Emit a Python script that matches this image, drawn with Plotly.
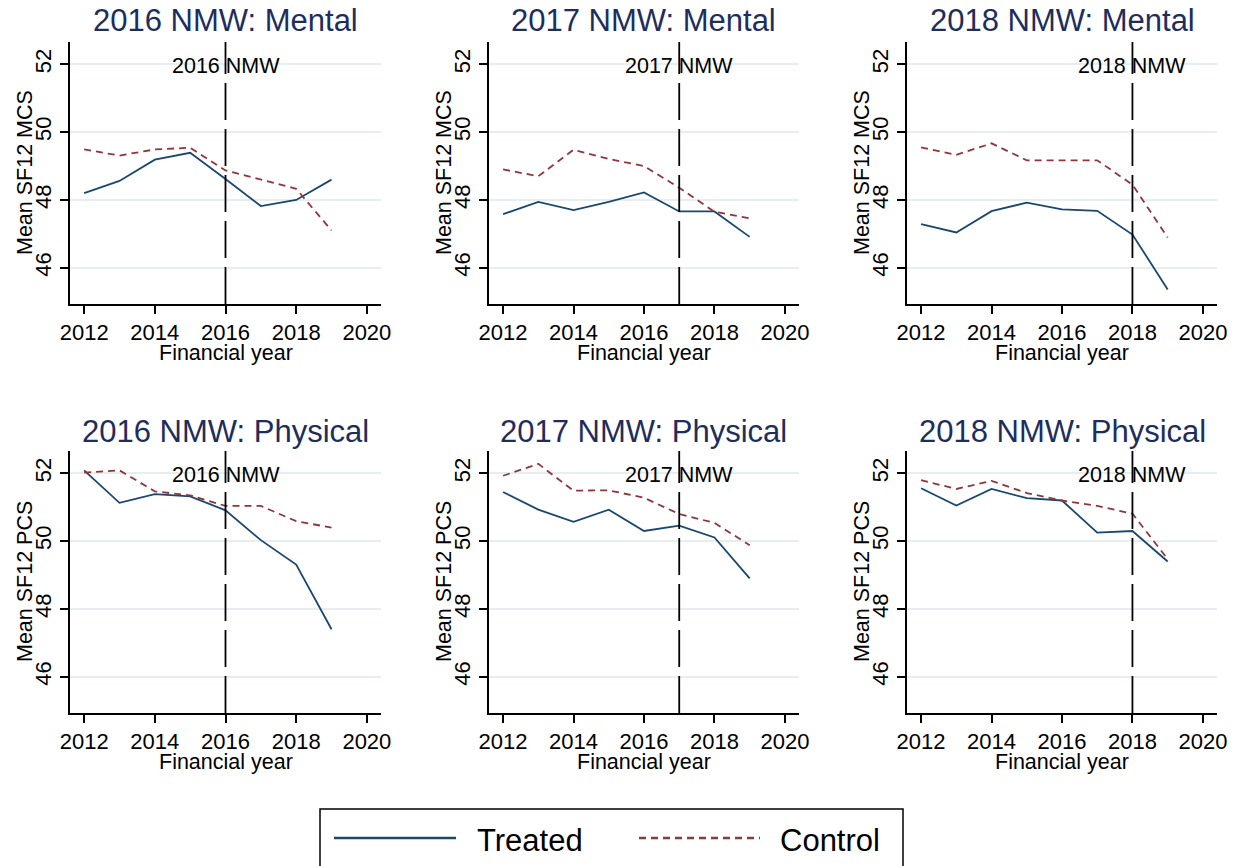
import plotly.graph_objects as go

# ---------------- data ----------------
years = [2012, 2013, 2014, 2015, 2016, 2017, 2018, 2019]

mental_2016_treated = [48.20, 48.56, 49.19, 49.39, 48.62, 47.82, 48.00, 48.60]
mental_2016_control = [49.49, 49.31, 49.49, 49.54, 48.87, 48.60, 48.33, 47.10]
mental_2017_treated = [47.58, 47.94, 47.70, 47.94, 48.22, 47.66, 47.66, 46.91]
mental_2017_control = [48.90, 48.70, 49.48, 49.21, 49.00, 48.36, 47.65, 47.46]
mental_2018_treated = [47.29, 47.04, 47.67, 47.92, 47.72, 47.68, 46.98, 45.36]
mental_2018_control = [49.55, 49.33, 49.67, 49.17, 49.17, 49.17, 48.45, 46.89]

physical_2016_treated = [52.09, 51.13, 51.39, 51.32, 50.91, 50.03, 49.31, 47.40]
physical_2016_control = [52.02, 52.09, 51.47, 51.35, 51.04, 51.04, 50.59, 50.40]
physical_2017_treated = [51.45, 50.93, 50.57, 50.93, 50.30, 50.46, 50.11, 48.90]
physical_2017_control = [51.93, 52.28, 51.49, 51.50, 51.28, 50.80, 50.54, 49.88]
physical_2018_treated = [51.56, 51.05, 51.54, 51.27, 51.20, 50.25, 50.30, 49.40]
physical_2018_control = [51.80, 51.54, 51.78, 51.42, 51.20, 51.04, 50.81, 49.47]

policy_years = [2016, 2017, 2018]
panel_titles = ["2016 NMW: Mental", "2017 NMW: Mental", "2018 NMW: Mental",
                "2016 NMW: Physical", "2017 NMW: Physical", "2018 NMW: Physical"]
policy_labels = ["2016 NMW", "2017 NMW", "2018 NMW"]
y_titles = ["Mean SF12 MCS", "Mean SF12 PCS"]
x_title = "Financial year"
x_ticks = [2012, 2014, 2016, 2018, 2020]
y_ticks = [46, 48, 50, 52]
legend_names = ["Treated", "Control"]

treated = [mental_2016_treated, mental_2017_treated, mental_2018_treated,
           physical_2016_treated, physical_2017_treated, physical_2018_treated]
control = [mental_2016_control, mental_2017_control, mental_2018_control,
           physical_2016_control, physical_2017_control, physical_2018_control]

# ---------------- style ----------------
OFF = 8                      # page body margin of the browser
W, H = 1235 - OFF, 866 - OFF
NAVY = "#1a476f"
MAROON = "#90353b"
TITLE_COLOR = "#1e2e5c"
GRID = "#e6eef0"
FONT = "Liberation Sans, Arial, sans-serif"
FS = 21.5
TICK_FS = 22


def px(x):
    return (x - OFF) / W


def py(y):
    return 1 - (y - OFF) / H


col_px = [(70, 381), (489, 799), (907, 1217)]
row_px = [(42, 304), (451, 713)]

fig = go.Figure()
layout = dict(
    width=W, height=H,
    margin=dict(l=0, r=0, t=0, b=0, autoexpand=False),
    paper_bgcolor="white", plot_bgcolor="white",
    showlegend=False,
    font=dict(family=FONT, size=FS, color="black"),
)
shapes = []
annotations = []

for i in range(6):
    r, c = divmod(i, 3)
    n = i + 1
    xa = "xaxis" if n == 1 else f"xaxis{n}"
    ya = "yaxis" if n == 1 else f"yaxis{n}"
    xr = "x" if n == 1 else f"x{n}"
    yr = "y" if n == 1 else f"y{n}"
    x0p, x1p = col_px[c]
    y0p, y1p = row_px[r]
    layout[xa] = dict(
        domain=[px(x0p), px(x1p)], anchor=yr, range=[2011.6, 2020.4],
        tickvals=x_ticks, ticks="outside", ticklen=8, tickwidth=1.5,
        tickcolor="black", showline=True, linecolor="black", linewidth=1.5,
        showgrid=False, zeroline=False, automargin=False,
        tickfont=dict(size=TICK_FS, family=FONT, color="black"),
    )
    layout[ya] = dict(
        domain=[py(y1p), py(y0p)], anchor=xr, range=[44.93, 52.66],
        tickvals=y_ticks, ticks="outside", ticklen=8, tickwidth=1.5,
        tickcolor="black", tickangle=-90, showline=True, linecolor="black",
        linewidth=1.5, showgrid=True, gridcolor=GRID, gridwidth=1.5,
        zeroline=False, automargin=False,
        tickfont=dict(size=TICK_FS, family=FONT, color="black"),
    )
    fig.add_trace(go.Scatter(x=years, y=treated[i], mode="lines", name=legend_names[0],
                             line=dict(color=NAVY, width=1.8), xaxis=xr, yaxis=yr))
    fig.add_trace(go.Scatter(x=years, y=control[i], mode="lines", name=legend_names[1],
                             line=dict(color=MAROON, width=1.8, dash="7px,5px"),
                             xaxis=xr, yaxis=yr))
    # vertical policy line
    shapes.append(dict(type="line", xref=xr, yref=f"{yr} domain",
                       x0=policy_years[c], x1=policy_years[c], y0=0, y1=1,
                       line=dict(color="black", width=1.8, dash="37px,9px")))
    annotations.append(dict(x=policy_years[c], y=51.96, xref=xr, yref=yr,
                            text=policy_labels[c], showarrow=False,
                            xanchor="center", yanchor="middle",
                            font=dict(size=FS, family=FONT, color="black")))
    # panel title
    title_y = 21 if r == 0 else 431
    annotations.append(dict(x=px((x0p + x1p) / 2), y=py(title_y),
                            xref="paper", yref="paper", text=panel_titles[i],
                            showarrow=False, xanchor="center", yanchor="middle",
                            font=dict(size=31, family=FONT, color=TITLE_COLOR)))
    # x axis title
    annotations.append(dict(x=px((x0p + x1p) / 2), y=py(y1p + 49),
                            xref="paper", yref="paper", text=x_title,
                            showarrow=False, xanchor="center", yanchor="middle",
                            font=dict(size=FS, family=FONT, color="black")))
    # y axis title
    annotations.append(dict(x=px(x0p - 45), y=py((y0p + y1p) / 2),
                            xref="paper", yref="paper", text=y_titles[r],
                            textangle=-90, showarrow=False,
                            xanchor="center", yanchor="middle",
                            font=dict(size=FS, family=FONT, color="black")))

# legend box (drawn manually, extends past bottom edge as in reference)
shapes.append(dict(type="rect", xref="paper", yref="paper",
                   x0=px(320), x1=px(903), y0=-0.1, y1=py(809),
                   line=dict(color="black", width=1.5), fillcolor="rgba(0,0,0,0)"))
shapes.append(dict(type="line", xref="paper", yref="paper",
                   x0=px(334), x1=px(456), y0=py(838), y1=py(838),
                   line=dict(color=NAVY, width=2.6)))
shapes.append(dict(type="line", xref="paper", yref="paper",
                   x0=px(639), x1=px(760), y0=py(838), y1=py(838),
                   line=dict(color=MAROON, width=2.6, dash="7px,5px")))
annotations.append(dict(x=px(475), y=py(840), xref="paper", yref="paper",
                        text=legend_names[0], showarrow=False, xanchor="left",
                        yanchor="middle", font=dict(size=31, family=FONT, color="black")))
annotations.append(dict(x=px(778), y=py(840), xref="paper", yref="paper",
                        text=legend_names[1], showarrow=False, xanchor="left",
                        yanchor="middle", font=dict(size=31, family=FONT, color="black")))

layout["shapes"] = shapes
layout["annotations"] = annotations
fig.update_layout(**layout)
fig.write_html("out.html")
